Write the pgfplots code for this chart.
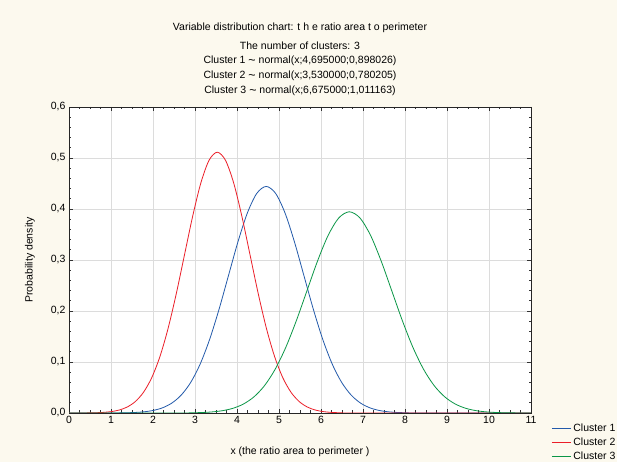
\documentclass[border=0pt]{standalone}
\usepackage{pgfplots}
\pgfplotsset{compat=1.18}
\usepackage{fontspec}
\setmainfont{Liberation Sans}
\definecolor{bgcream}{RGB}{252,249,238}
\definecolor{cblue}{RGB}{35,90,170}
\definecolor{cred}{RGB}{235,30,40}
\definecolor{cgreen}{RGB}{10,150,70}
\definecolor{gridgray}{RGB}{220,220,220}
\newcommand{\tld}{\raisebox{-0.5pt}{\fontsize{12.5}{12}\selectfont\textasciitilde}}
\begin{document}
\begin{tikzpicture}[x=1pt,y=1pt]
\fill[bgcream] (0,0) rectangle (617,462);
\useasboundingbox (0,0) rectangle (617,462);
\begin{scope}[font=\fontsize{10.5}{12}\selectfont]
\node at (300,434) {Variable distribution chart: t h e ratio area t o perimeter};
\node at (300,416) {The number of clusters: 3};
\node at (300,401) {Cluster 1 \tld\ normal(x;4,695000;0,898026)};
\node at (300,386) {Cluster 2 \tld\ normal(x;3,530000;0,780205)};
\node at (300,371) {Cluster 3 \tld\ normal(x;6,675000;1,011163)};
\end{scope}
\begin{axis}[
  at={(69pt,49pt)}, anchor=south west,
  scale only axis, width=462pt, height=306pt,
  xmin=0, xmax=11, ymin=0, ymax=0.6,
  xtick={0,1,...,11}, ytick={0,0.1,...,0.6},
  minor x tick num=3, minor y tick num=4,
  tick align=inside, major tick length=4pt, minor tick length=2.5pt,
  tick style={black!80, line width=0.6pt},
  axis background/.style={fill=white},
  axis line style={black!85, line width=0.8pt},
  grid=major, major grid style={gridgray, line width=0.7pt},
  yticklabel style={/pgf/number format/.cd, fixed, fixed zerofill, precision=1, use comma},
  /pgf/number format/assume math mode=true,
  ticklabel style={font=\fontsize{10.5}{12}\selectfont},
  xlabel={x (the ratio area to perimeter )},
  ylabel={Probability density},
  label style={font=\fontsize{10.5}{12}\selectfont},
  xlabel style={at={(axis description cs:0.5,0)}, anchor=center, yshift=-39pt},
  ylabel style={at={(axis description cs:0,0.5)}, anchor=center, yshift=39pt},
  clip=true,
  legend style={at={(rel axis cs:1,0)}, anchor=north west, xshift=19pt, yshift=-7.5pt,
    draw=none, fill=none, font=\fontsize{10.5}{12}\selectfont, row sep=1pt,
    inner sep=1pt},
  legend cell align=left,
  legend image code/.code={\draw[#1] (0cm,0cm) -- (0.67cm,0cm);},
]
\addlegendimage{draw=cblue, line width=1.1pt}
\addlegendentry{Cluster 1}
\addlegendimage{draw=cred, line width=1.1pt}
\addlegendentry{Cluster 2}
\addlegendimage{draw=cgreen, line width=1.1pt}
\addlegendentry{Cluster 3}
\addplot[cblue, line width=0.8pt, smooth, forget plot] coordinates {
(0,0) (1.1029,0.00015) (1.3274,0.00039) (1.5519,0.00097) (1.7764,0.00226)
(2.0009,0.00494) (2.2254,0.01013) (2.4499,0.01952) (2.6744,0.03534)
(2.8990,0.06012) (3.1235,0.09607) (3.3480,0.14422) (3.5725,0.20339)
(3.7970,0.26945) (4.0215,0.33533) (4.2460,0.39204) (4.4705,0.43057)
(4.6950,0.44424) (4.9195,0.43057) (5.1440,0.39204) (5.3685,0.33533)
(5.5930,0.26945) (5.8175,0.20339) (6.0420,0.14422) (6.2666,0.09607)
(6.4911,0.06012) (6.7156,0.03534) (6.9401,0.01952) (7.1646,0.01013)
(7.3891,0.00494) (7.6136,0.00226) (7.8381,0.00097) (8.0626,0.00039)
(8.2871,0.00015) (11,0)
};
\addplot[cred, line width=0.8pt, smooth, forget plot] coordinates {
(0,0.00002) (0.4092,0.00017) (0.6042,0.00045) (0.7993,0.00112) (0.9943,0.00260)
(1.1894,0.00568) (1.3844,0.01166) (1.5795,0.02247) (1.7745,0.04068)
(1.9696,0.06920) (2.1646,0.11058) (2.3597,0.16600) (2.5547,0.23410)
(2.7498,0.31014) (2.9448,0.38597) (3.1399,0.45125) (3.3349,0.49560)
(3.5300,0.51133) (3.7251,0.49560) (3.9201,0.45125) (4.1152,0.38597)
(4.3102,0.31014) (4.5053,0.23410) (4.7003,0.16600) (4.8954,0.11058)
(5.0904,0.06920) (5.2855,0.04068) (5.4805,0.02247) (5.6756,0.01166)
(5.8706,0.00568) (6.0657,0.00260) (6.2607,0.00112) (6.4558,0.00045)
(6.6508,0.00017) (11,0)
};
\addplot[cgreen, line width=0.8pt, smooth, forget plot] coordinates {
(0,0) (2.6304,0.00013) (2.8831,0.00035) (3.1359,0.00086) (3.3887,0.00201)
(3.6415,0.00438) (3.8943,0.00899) (4.1471,0.01733) (4.3999,0.03139)
(4.6527,0.05339) (4.9055,0.08533) (5.1583,0.12809) (5.4111,0.18063)
(5.6638,0.23930) (5.9166,0.29781) (6.1694,0.34818) (6.4222,0.38240)
(6.6750,0.39454) (6.9278,0.38240) (7.1806,0.34818) (7.4334,0.29781)
(7.6862,0.23930) (7.9390,0.18063) (8.1918,0.12809) (8.4445,0.08533)
(8.6973,0.05339) (8.9501,0.03139) (9.2029,0.01733) (9.4557,0.00899)
(9.7085,0.00438) (9.9613,0.00201) (10.2141,0.00086) (10.4669,0.00035)
(10.7197,0.00013) (11,0.00004)
};
\end{axis}
\end{tikzpicture}
\end{document}
